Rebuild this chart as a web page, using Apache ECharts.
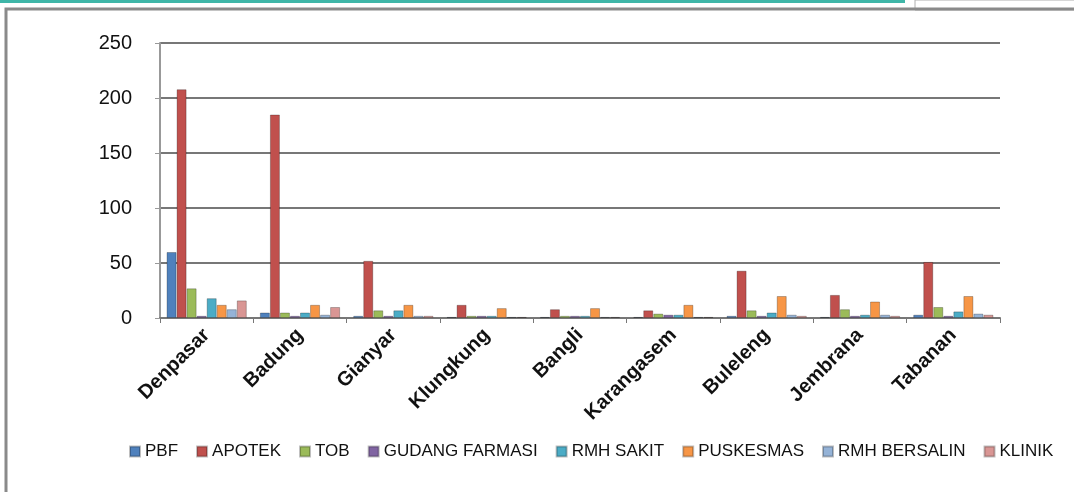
<!DOCTYPE html>
<html>
<head>
<meta charset="utf-8">
<script src="https://cdn.jsdelivr.net/npm/echarts@6/dist/echarts.min.js"></script>
<style>
  html, body { margin: 0; padding: 0; background: #fff; }
  #main { width: 1074px; height: 492px; }
</style>
</head>
<body>
<div id="main"></div>
<script>
// regions (kabupaten) on the x axis
const regions = ['Denpasar', 'Badung', 'Gianyar', 'Klungkung', 'Bangli', 'Karangasem', 'Buleleng', 'Jembrana', 'Tabanan'];

// one array per facility type
const pbf         = [60, 5, 2, 1, 1, 1, 2, 1, 3];
const apotek      = [208, 185, 52, 12, 8, 7, 43, 21, 51];
const tob         = [27, 5, 7, 2, 2, 4, 7, 8, 10];
const gudang      = [2, 2, 2, 2, 2, 3, 2, 2, 2];
const rmhSakit    = [18, 5, 7, 2, 2, 3, 5, 3, 6];
const puskesmas   = [12, 12, 12, 9, 9, 12, 20, 15, 20];
const rmhBersalin = [8, 3, 2, 1, 1, 1, 3, 3, 4];
const klinik      = [16, 10, 2, 1, 1, 1, 2, 2, 3];

const yTicks = [0, 50, 100, 150, 200, 250];

document.addEventListener('DOMContentLoaded', function () {
    var chartDom = document.getElementById('main');
    var myChart = echarts.init(chartDom);

    const seriesDefs = [
        { name: 'PBF', data: pbf, color: '#4F81BD' },
        { name: 'APOTEK', data: apotek, color: '#C0504D' },
        { name: 'TOB', data: tob, color: '#9BBB59' },
        { name: 'GUDANG FARMASI', data: gudang, color: '#8064A2' },
        { name: 'RMH SAKIT', data: rmhSakit, color: '#4BACC6' },
        { name: 'PUSKESMAS', data: puskesmas, color: '#F79646' },
        { name: 'RMH BERSALIN', data: rmhBersalin, color: '#95B3D7' },
        { name: 'KLINIK', data: klinik, color: '#D99694' }
    ];

    var option = {
        animation: false,
        textStyle: { fontFamily: 'Liberation Sans' },
        graphic: [
            // teal strip along the top
            { type: 'rect', shape: { x: 0, y: 0, width: 905, height: 3 }, style: { fill: '#3FB6A8' } },
            { type: 'rect', shape: { x: 915, y: 0, width: 170, height: 10 }, style: { fill: '#fff', stroke: '#b0b0b0', lineWidth: 1 } },
            // chart frame
            { type: 'rect', shape: { x: 6, y: 9, width: 1080, height: 500 }, style: { fill: 'none', stroke: '#8a8a8a', lineWidth: 3 } }
        ],
        legend: {
            bottom: 27,
            left: 124,
            itemWidth: 10,
            itemHeight: 10,
            itemGap: 18,
            icon: 'rect',
            textStyle: { fontFamily: 'Liberation Sans', fontSize: 17, color: '#111' },
            data: seriesDefs.map(s => s.name)
        },
        grid: {
            left: 160,
            right: 74,
            top: 43,
            bottom: 174
        },
        xAxis: {
            type: 'category',
            data: regions,
            axisLine: { lineStyle: { color: '#777', width: 2 } },
            axisTick: { show: true, lineStyle: { color: '#777' } },
            axisLabel: {
                rotate: 45,
                fontSize: 20,
                fontWeight: 'bold',
                color: '#111',
                margin: 14
            }
        },
        yAxis: {
            type: 'value',
            min: 0,
            max: 250,
            interval: 50,
            axisLine: { show: true, lineStyle: { color: '#999', width: 2 } },
            axisTick: { show: true, lineStyle: { color: '#999' } },
            axisLabel: { fontSize: 20, color: '#111', margin: 28 },
            splitLine: { lineStyle: { color: '#777', width: 2 } }
        },
        series: seriesDefs.map(s => ({
            name: s.name,
            type: 'bar',
            data: s.data,
            barGap: '0%',
            barCategoryGap: '14%',
            itemStyle: { color: s.color, borderColor: 'rgba(0,0,0,0.25)', borderWidth: 1 }
        }))
    };

    option && myChart.setOption(option);
});
</script>
</body>
</html>
